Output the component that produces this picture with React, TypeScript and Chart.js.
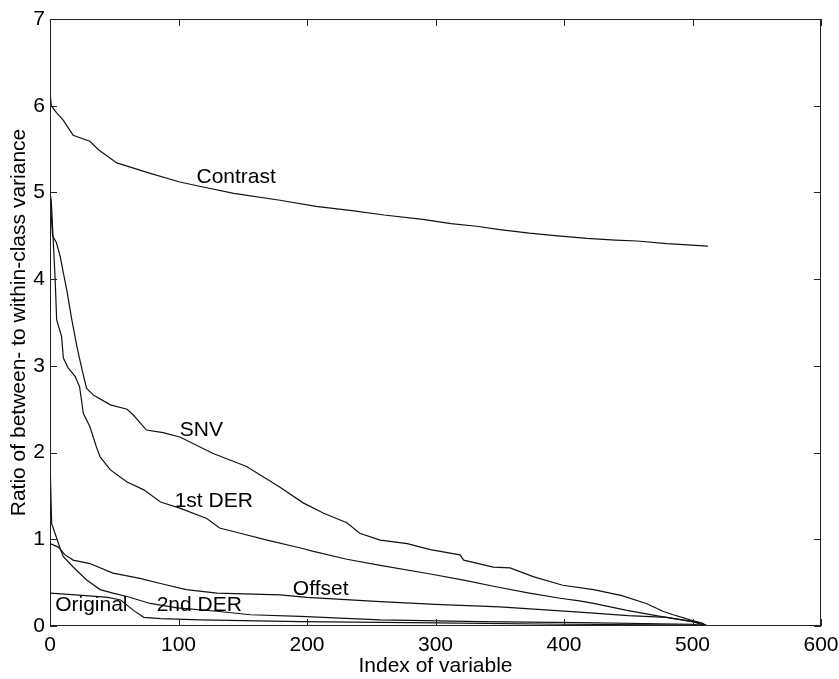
import { useEffect, useRef } from "react";
import { Chart, registerables } from "chart.js";
Chart.register(...registerables);

const FONT = "'Liberation Sans', Arial, sans-serif";
const FS = 21;

const contrastX = [0, 1, 5, 10, 18, 31, 38, 52, 65, 78, 101, 120, 143, 179, 207, 235, 260, 290, 312, 332, 350, 373, 395, 418, 440, 457, 480, 512];
const contrastY = [6.17, 6.0, 5.92, 5.84, 5.66, 5.59, 5.49, 5.34, 5.28, 5.22, 5.12, 5.06, 4.99, 4.91, 4.84, 4.79, 4.74, 4.69, 4.64, 4.61, 4.57, 4.53, 4.5, 4.47, 4.45, 4.44, 4.41, 4.38];

const snvX = [0, 2, 5, 8, 10, 13, 17, 21, 25, 28.5, 34, 47, 60, 65, 75, 88, 101, 127, 153, 179, 197, 213, 231, 241, 257, 278, 296, 319, 322, 345, 358, 376, 399, 423, 445, 464, 477, 485, 498, 506, 511];
const snvY = [4.95, 4.5, 4.42, 4.26, 4.1, 3.88, 3.53, 3.22, 2.95, 2.74, 2.66, 2.55, 2.5, 2.43, 2.26, 2.23, 2.18, 1.99, 1.84, 1.6, 1.42, 1.3, 1.19, 1.07, 0.99, 0.95, 0.88, 0.82, 0.76, 0.68, 0.67, 0.57, 0.47, 0.42, 0.35, 0.26, 0.17, 0.13, 0.07, 0.04, 0.0];

const derX = [0, 1, 4, 5.2, 7.8, 9, 10.4, 14, 19.5, 23, 26, 31, 36, 39, 47, 60, 73, 86, 101, 122, 132, 148, 169, 195, 205, 231, 257, 296, 322, 348, 373, 397, 412, 423, 449, 475, 500, 508, 511];
const derY = [5.0, 4.9, 4.0, 3.53, 3.4, 3.34, 3.09, 2.98, 2.88, 2.76, 2.45, 2.3, 2.07, 1.95, 1.8, 1.66, 1.57, 1.43, 1.36, 1.24, 1.13, 1.07, 0.99, 0.9, 0.86, 0.77, 0.7, 0.6, 0.53, 0.45, 0.38, 0.32, 0.29, 0.26, 0.18, 0.11, 0.05, 0.03, 0.0];

const offsetX = [0, 6.5, 11.7, 18, 31, 49, 70, 86, 106, 130, 179, 200, 257, 300, 350, 412, 450, 480, 500, 511];
const offsetY = [0.95, 0.91, 0.82, 0.76, 0.72, 0.61, 0.55, 0.49, 0.42, 0.38, 0.36, 0.33, 0.28, 0.25, 0.22, 0.16, 0.12, 0.1, 0.05, 0.0];

const der2X = [0, 1.3, 3.9, 7.8, 10.4, 18, 28.5, 39, 49, 60, 78, 99, 130, 156, 195, 257, 335, 412, 500, 511];
const der2Y = [1.91, 1.18, 1.07, 0.9, 0.8, 0.68, 0.53, 0.42, 0.38, 0.34, 0.26, 0.21, 0.17, 0.13, 0.11, 0.07, 0.05, 0.04, 0.02, 0.0];

const originalX = [0, 20, 45, 55, 65, 73, 86, 117, 195, 300, 400, 511];
const originalY = [0.38, 0.36, 0.33, 0.3, 0.18, 0.1, 0.085, 0.07, 0.05, 0.035, 0.02, 0.01];

const labelText = ["Contrast", "SNV", "1st DER", "Offset", "Original", "2nd DER"];
const labelX = [114, 101, 97, 189, 4, 83];
const labelY = [5.18, 2.26, 1.44, 0.43, 0.24, 0.24];

const xTicks = [0, 100, 200, 300, 400, 500, 600];
const yTicks = [0, 1, 2, 3, 4, 5, 6, 7];

const toPts = (xs: number[], ys: number[]) => xs.map((x, i) => ({ x, y: ys[i] }));

const framePlugin = {
  id: "frame",
  afterDatasetsDraw(chart: any) {
    const { ctx, chartArea: a, scales } = chart;
    const xs = scales.x;
    const ys = scales.y;
    ctx.save();
    ctx.strokeStyle = "#222";
    ctx.lineWidth = 1;
    ctx.strokeRect(a.left + 0.5, a.top + 0.5, a.right - a.left - 1, a.bottom - a.top - 1);
    const tl = 7;
    ctx.beginPath();
    xTicks.forEach((v) => {
      const px = Math.round(xs.getPixelForValue(v)) + 0.5;
      ctx.moveTo(px, a.bottom);
      ctx.lineTo(px, a.bottom - tl);
      ctx.moveTo(px, a.top);
      ctx.lineTo(px, a.top + tl);
    });
    yTicks.forEach((v) => {
      const py = Math.round(ys.getPixelForValue(v)) + 0.5;
      ctx.moveTo(a.left, py);
      ctx.lineTo(a.left + tl, py);
      ctx.moveTo(a.right, py);
      ctx.lineTo(a.right - tl, py);
    });
    ctx.stroke();
    ctx.fillStyle = "#000";
    ctx.font = `${FS}px ${FONT}`;
    ctx.textAlign = "left";
    ctx.textBaseline = "middle";
    labelText.forEach((t, i) => {
      ctx.fillText(t, xs.getPixelForValue(labelX[i]), ys.getPixelForValue(labelY[i]));
    });
    ctx.restore();
  },
};

export default function App() {
  const ref = useRef<HTMLCanvasElement | null>(null);
  useEffect(() => {
    if (!ref.current) return;
    const ds = (label: string, xs: number[], ys: number[]) => ({
      label,
      data: toPts(xs, ys),
      borderColor: "#111",
      borderWidth: 1.2,
      pointRadius: 0,
      tension: 0,
      fill: false,
    });
    const chart = new Chart(ref.current, {
      type: "line",
      data: {
        datasets: [
          ds("Contrast", contrastX, contrastY),
          ds("SNV", snvX, snvY),
          ds("1st DER", derX, derY),
          ds("Offset", offsetX, offsetY),
          ds("2nd DER", der2X, der2Y),
          ds("Original", originalX, originalY),
        ],
      },
      options: {
        animation: false,
        responsive: false,
        layout: { padding: { left: 0, right: 18, top: 19, bottom: 0 } },
        plugins: { legend: { display: false }, tooltip: { enabled: false } },
        scales: {
          x: {
            type: "linear",
            min: 0,
            max: 600,
            afterBuildTicks: (s: any) => {
              s.ticks = xTicks.map((v) => ({ value: v }));
            },
            afterFit: (s: any) => {
              s.height = 53;
              s.paddingLeft = 0;
              s.paddingRight = 0;
            },
            grid: { display: false, drawTicks: false },
            border: { display: false },
            ticks: { color: "#000", font: { family: FONT, size: FS }, padding: 7, maxRotation: 0, autoSkip: false },
            title: { display: true, text: "Index of variable", color: "#000", font: { family: FONT, size: FS }, padding: { top: 0, bottom: 0 } },
          },
          y: {
            type: "linear",
            min: 0,
            max: 7,
            afterBuildTicks: (s: any) => {
              s.ticks = yTicks.map((v) => ({ value: v }));
            },
            afterFit: (s: any) => {
              s.width = 50;
              s.paddingTop = 0;
              s.paddingBottom = 0;
            },
            grid: { display: false, drawTicks: false },
            border: { display: false },
            ticks: { color: "#000", font: { family: FONT, size: FS }, padding: 5, autoSkip: false },
            title: { display: true, text: "Ratio of between- to within-class variance", color: "#000", font: { family: FONT, size: FS }, padding: { top: 7, bottom: 0 } },
          },
        },
      },
      plugins: [framePlugin],
    } as any);
    return () => chart.destroy();
  }, []);
  return (
    <div style={{ position: "absolute", left: 0, top: 0, width: 839, height: 679, background: "#fff" }}>
      <canvas ref={ref} width={839} height={679} />
    </div>
  );
}
